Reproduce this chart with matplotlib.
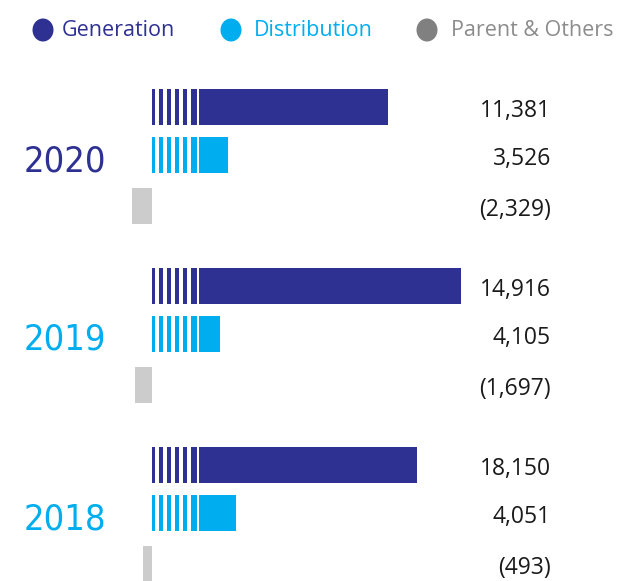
import matplotlib
matplotlib.use("Agg")
import matplotlib.pyplot as plt
from matplotlib.patches import Rectangle, Ellipse

# ---- data ----
years = ["2020", "2019", "2018"]
segments = ["Generation", "Distribution", "Parent & Others"]
generation = [11381, 14916, 18150]
distribution = [3526, 4105, 4051]
parent_others = [-2329, -1697, -493]
# drawn bar lengths as they appear in the reference (not to scale, broken axis)
gen_len = [236, 309, 265]
dist_len = [76, 68, 84]
parent_len = [-20, -17, -9]

colors = ["#2E3192", "#00AEEF", "#CCCCCC"]
legend_marker_colors = ["#2E3192", "#00AEEF", "#808080"]
legend_text_colors = ["#2E3192", "#00AEEF", "#8C8C8C"]
year_colors = ["#2E3192", "#00AEEF", "#00AEEF"]

def fmt(v):
    return f"({abs(v):,})" if v < 0 else f"{v:,}"

W, H = 617, 581
fig = plt.figure(figsize=(W / 100, H / 100), dpi=100)
ax = fig.add_axes([0, 0, 1, 1])
x0 = 152
ax.set_xlim(-x0, W - x0)
ax.set_ylim(H, 0)
ax.axis("off")

group_start = 107
group_step = 179
offsets = [0, 48, 99]
bar_h = 36
gaps = [(2.5, 7.3), (10.7, 15.3), (18.7, 23.3), (26.7, 31.3), (34.7, 39.3), (44.7, 46.7)]

for i, yr in enumerate(years):
    yc = group_start + i * group_step
    lens = [gen_len[i], dist_len[i], parent_len[i]]
    vals = [generation[i], distribution[i], parent_others[i]]
    for j in range(3):
        y = yc + offsets[j]
        ax.barh(y, lens[j], height=bar_h, color=colors[j], linewidth=0)
        if j < 2:
            for g0, g1 in gaps:
                ax.add_patch(Rectangle((g0, y - bar_h / 2), g1 - g0, bar_h,
                                       facecolor="white", edgecolor="none", zorder=3))
        ax.text(399, y + 4, fmt(vals[j]), ha="right", va="center",
                fontsize=16.5, family="Open Sans", color="#1a1a1a")
    ax.text(-87, yc + offsets[1] + 6, yr, ha="center", va="center",
            fontsize=26, family="DejaVu Sans", fontstretch="condensed",
            color=year_colors[i])

# legend
leg_cx = [43, 231, 427]
leg_tx = [62, 254, 451]
for k in range(3):
    ax.add_patch(Ellipse((leg_cx[k] - x0, 30), 21, 23, facecolor=legend_marker_colors[k],
                         edgecolor="none"))
    ax.text(leg_tx[k] - x0, 31, segments[k], ha="left", va="center",
            fontsize=15.5, family="Open Sans", color=legend_text_colors[k])

fig.savefig("out.png", dpi=100)
